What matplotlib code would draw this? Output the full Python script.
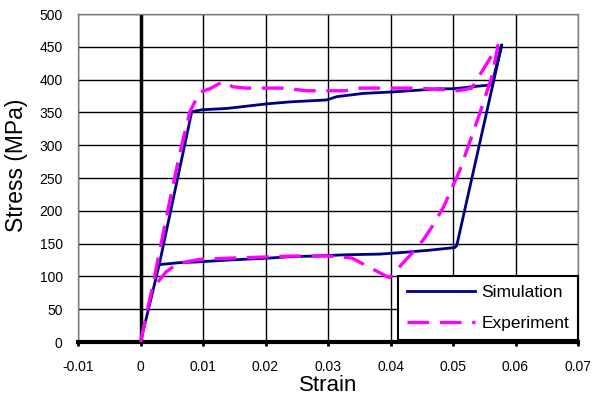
import matplotlib
matplotlib.use("Agg")
import matplotlib.pyplot as plt

plt.rcParams['font.family'] = ['Liberation Sans', 'DejaVu Sans']

# Simulation (strain, stress MPa)
sim_strain = [0.0, 0.0030, 0.0082, 0.0098, 0.0138, 0.0202, 0.0239, 0.0298, 0.0314,
              0.0357, 0.0399, 0.0447, 0.0474, 0.0500, 0.0540, 0.0562, 0.0578,
              0.0506, 0.0503, 0.0463, 0.0426, 0.0383, 0.0330, 0.0277, 0.0239,
              0.0207, 0.0143, 0.0090, 0.0063, 0.0030]
sim_stress = [0, 118, 351, 354, 356, 363, 366, 369, 374,
              379, 381, 384, 386, 386, 390, 392, 453,
              147, 144, 140, 137, 134, 133, 131, 130,
              128, 125, 122, 121, 118]

# Experiment (strain, stress MPa)
exp_strain = [0.0, 0.0018, 0.0047, 0.0063, 0.0079, 0.0095, 0.0111, 0.0132, 0.0148,
              0.0170, 0.0228, 0.0266, 0.0327, 0.0351, 0.0447, 0.0508, 0.0530,
              0.0548, 0.0572, 0.0562, 0.0543, 0.0511, 0.0485, 0.0468, 0.0452,
              0.0437, 0.0398, 0.0338, 0.0300, 0.0239, 0.0180, 0.0119, 0.0095,
              0.0060, 0.0041, 0.0018]
exp_stress = [0, 79, 216, 288, 351, 381, 386, 397, 389,
              387, 387, 383, 383, 387, 387, 383, 387,
              415, 452, 404, 349, 262, 206, 178, 155,
              138, 98, 128, 131, 131, 129, 127, 126,
              120, 107, 80]

x_ticks = [-0.01, 0, 0.01, 0.02, 0.03, 0.04, 0.05, 0.06, 0.07]
x_labels = ['-0.01', '0', '0.01', '0.02', '0.03', '0.04', '0.05', '0.06', '0.07']
y_ticks = [0, 50, 100, 150, 200, 250, 300, 350, 400, 450, 500]

fig = plt.figure(figsize=(5.93, 4.01), dpi=100)
ax = fig.add_axes([78/593, (401-342)/401, 500/593, 328/401])

ax.set_xlim(-0.01, 0.07)
ax.set_ylim(0, 500)
ax.set_xticks(x_ticks)
ax.set_xticklabels(x_labels)
ax.set_yticks(y_ticks)
ax.tick_params(axis='x', length=3, width=2, direction='out', color='black',
               labelsize=10, pad=10)
ax.tick_params(axis='y', length=0, labelsize=10, pad=11)

ax.grid(True, color='black', linewidth=1.0, zorder=0)
ax.set_axisbelow(True)
for s in ax.spines.values():
    s.set_color('#808080')
    s.set_linewidth(1.0)
ax.spines['bottom'].set_color('black')
ax.spines['bottom'].set_linewidth(3.0)

ax.axvline(0, color='black', linewidth=2.5, zorder=1)

ax.plot(sim_strain, sim_stress, color='#000080', linewidth=2.0, label='Simulation', zorder=3)
ax.plot(exp_strain, exp_stress, color='#FF00FF', linewidth=2.4, dashes=(6.5, 3.2),
        label='Experiment', zorder=4)

ax.set_xlabel('Strain', fontsize=16, labelpad=1)
ax.set_ylabel('Stress (MPa)', fontsize=16.5)
ax.yaxis.set_label_coords(-0.099, 0.538)

leg = ax.legend(loc='lower right', bbox_to_anchor=(1.0, 0.006), borderaxespad=0,
                fontsize=12.5, handlelength=3.9, fancybox=False, framealpha=1,
                edgecolor='black', borderpad=0.5, labelspacing=0.95, handletextpad=0.4)
leg.get_frame().set_linewidth(1.5)
leg.set_zorder(10)

fig.savefig('out.png', dpi=100)
